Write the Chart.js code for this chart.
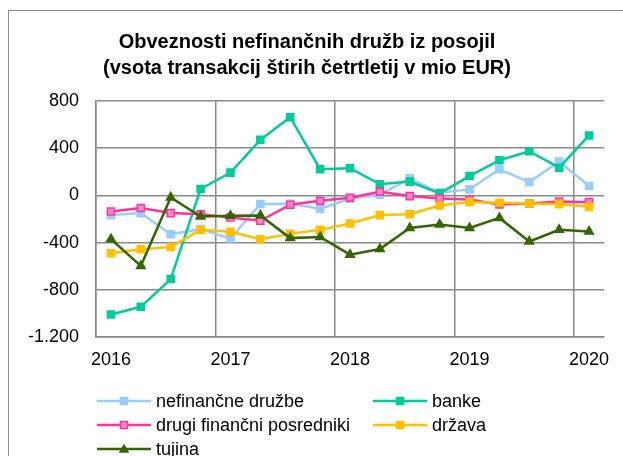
<!DOCTYPE html>
<html>
<head>
<meta charset="utf-8">
<script src="https://cdn.jsdelivr.net/npm/chart.js@4"></script>
<style>
  html, body { margin: 0; padding: 0; background: #fff; }
  #wrap { position: relative; width: 623px; height: 456px; overflow: hidden; }
  #frame { position: absolute; left: 8px; top: 10px; width: 700px; height: 600px; border: 1px solid #8c8c8c; box-sizing: border-box; }
  #chart { position: absolute; left: 0; top: 0; }
  #legend { position: absolute; left: 0; top: 0; width: 623px; height: 456px; font: 18px Arial, "Liberation Sans", sans-serif; color: #000; }
  .item { position: absolute; display: flex; align-items: center; white-space: nowrap; height: 24px; }
  .item canvas { margin-right: 5px; }
</style>
</head>
<body>
<div id="wrap">
  <div id="frame"></div>
  <canvas id="chart" width="623" height="456"></canvas>
  <div id="legend"></div>
</div>
<script>
const quarters = ["2016Q1", "2016Q2", "2016Q3", "2016Q4", "2017Q1", "2017Q2", "2017Q3", "2017Q4",
  "2018Q1", "2018Q2", "2018Q3", "2018Q4", "2019Q1", "2019Q2", "2019Q3", "2019Q4", "2020Q1"]

const nefinancne = [-167, -150, -329, -286, -366, -73, -71, -112, -29, 5, 145, 22, 51, 221, 113, 286, 79]
const banke = [-1009, -944, -709, 54, 193, 471, 663, 221, 230, 94, 117, 17, 164, 298, 374, 235, 508]
const drugi = [-136, -107, -150, -159, -187, -215, -79, -46, -20, 31, -6, -26, -34, -77, -68, -51, -57]
const drzava = [-490, -456, -437, -292, -309, -371, -326, -292, -238, -167, -159, -85, -57, -63, -68, -74, -97]
const tujina = [-371, -598, -17, -179, -173, -170, -362, -352, -502, -454, -276, -247, -276, -191, -391, -292, -306]

const yTicks = [800, 400, 0, -400, -800, -1200]

const font = "Arial, 'Liberation Sans', sans-serif"
const gridGray = "#8a8a8a"

function fmt(v) {
    // slovenian thousands separator
    let s = Math.abs(v).toString()
    if (s.length > 3) s = s.slice(0, s.length - 3) + "." + s.slice(-3)
    return (v < 0 ? "-" : "") + s
}

function series(label, data, color, style, fill, order) {
    return {
        label: label,
        data: data,
        borderColor: color,
        backgroundColor: color,
        borderWidth: 2.5,
        pointStyle: style,
        pointRadius: 5,
        pointBackgroundColor: fill || color,
        pointBorderColor: color,
        pointBorderWidth: 1.5,
        tension: 0,
        order: order
    }
}

const datasets = [
    series("nefinančne družbe", nefinancne, "#99ccff", "rect", null, 5),
    series("banke", banke, "#00cc99", "rect", null, 4),
    series("drugi finančni posredniki", drugi, "#ff3399", "rect", "#ff88cc", 3),
    series("država", drzava, "#ffc000", "rect", null, 2),
    series("tujina", tujina, "#336600", "triangle", null, 1)
]

Chart.defaults.font.family = font
Chart.defaults.color = "#000"

const chart = new Chart(document.getElementById("chart"), {
    type: "line",
    data: { labels: quarters, datasets: datasets },
    options: {
        responsive: false,
        animation: false,
        layout: { padding: { left: 10, right: 19, top: 10, bottom: 84 } },
        plugins: {
            legend: { display: false },
            tooltip: { enabled: false },
            title: {
                display: true,
                text: ["Obveznosti nefinančnih družb iz posojil", "(vsota transakcij štirih četrtletij v mio EUR)"],
                font: { size: 20, weight: "bold", lineHeight: 1.3 },
                color: "#000",
                padding: { top: 19, bottom: 20 }
            }
        },
        scales: {
            x: {
                offset: true,
                grid: {
                    offset: true,
                    drawTicks: false,
                    lineWidth: 1.5,
                    color: ctx => ctx.index % 4 === 0 ? gridGray : "transparent"
                },
                border: { color: gridGray, width: 1.5 },
                ticks: {
                    autoSkip: false,
                    maxRotation: 0,
                    padding: 12,
                    font: { size: 18 },
                    callback: function (v, i) {
                        const q = quarters[i]
                        return q.endsWith("Q1") ? q.slice(0, 4) : ""
                    }
                },
                afterFit: s => { s.height = 35 }
            },
            y: {
                min: -1200,
                max: 800,
                afterBuildTicks: s => { s.ticks = yTicks.map(v => ({ value: v })) },
                grid: { drawTicks: false, lineWidth: 1.5, color: gridGray },
                border: { color: gridGray, width: 1.5 },
                ticks: {
                    padding: 17,
                    font: { size: 18 },
                    callback: v => fmt(v)
                },
                afterFit: s => { s.width = 86 }
            }
        }
    }
})

// legend in two columns, built from the chart datasets
const legendPos = [[97, 401], [373, 401], [97, 425], [373, 425], [97, 449]]
const legendEl = document.getElementById("legend")
chart.data.datasets.forEach((ds, i) => {
    const item = document.createElement("div")
    item.className = "item"
    item.style.left = legendPos[i][0] + "px"
    item.style.top = (legendPos[i][1] - 12) + "px"
    const c = document.createElement("canvas")
    c.width = 54
    c.height = 14
    const g = c.getContext("2d")
    g.strokeStyle = ds.borderColor
    g.lineWidth = 2.5
    g.beginPath()
    g.moveTo(0, 7)
    g.lineTo(54, 7)
    g.stroke()
    g.fillStyle = ds.pointBackgroundColor
    g.strokeStyle = ds.pointBorderColor
    g.lineWidth = 1.5
    if (ds.pointStyle === "triangle") {
        g.beginPath()
        g.moveTo(27, 3)
        g.lineTo(31, 10)
        g.lineTo(23, 10)
        g.closePath()
        g.fill()
        g.stroke()
    } else {
        g.fillRect(23.5, 3.5, 7, 7)
        g.strokeRect(23.5, 3.5, 7, 7)
    }
    item.appendChild(c)
    const t = document.createElement("span")
    t.textContent = ds.label
    item.appendChild(t)
    legendEl.appendChild(item)
})
</script>
</body>
</html>
